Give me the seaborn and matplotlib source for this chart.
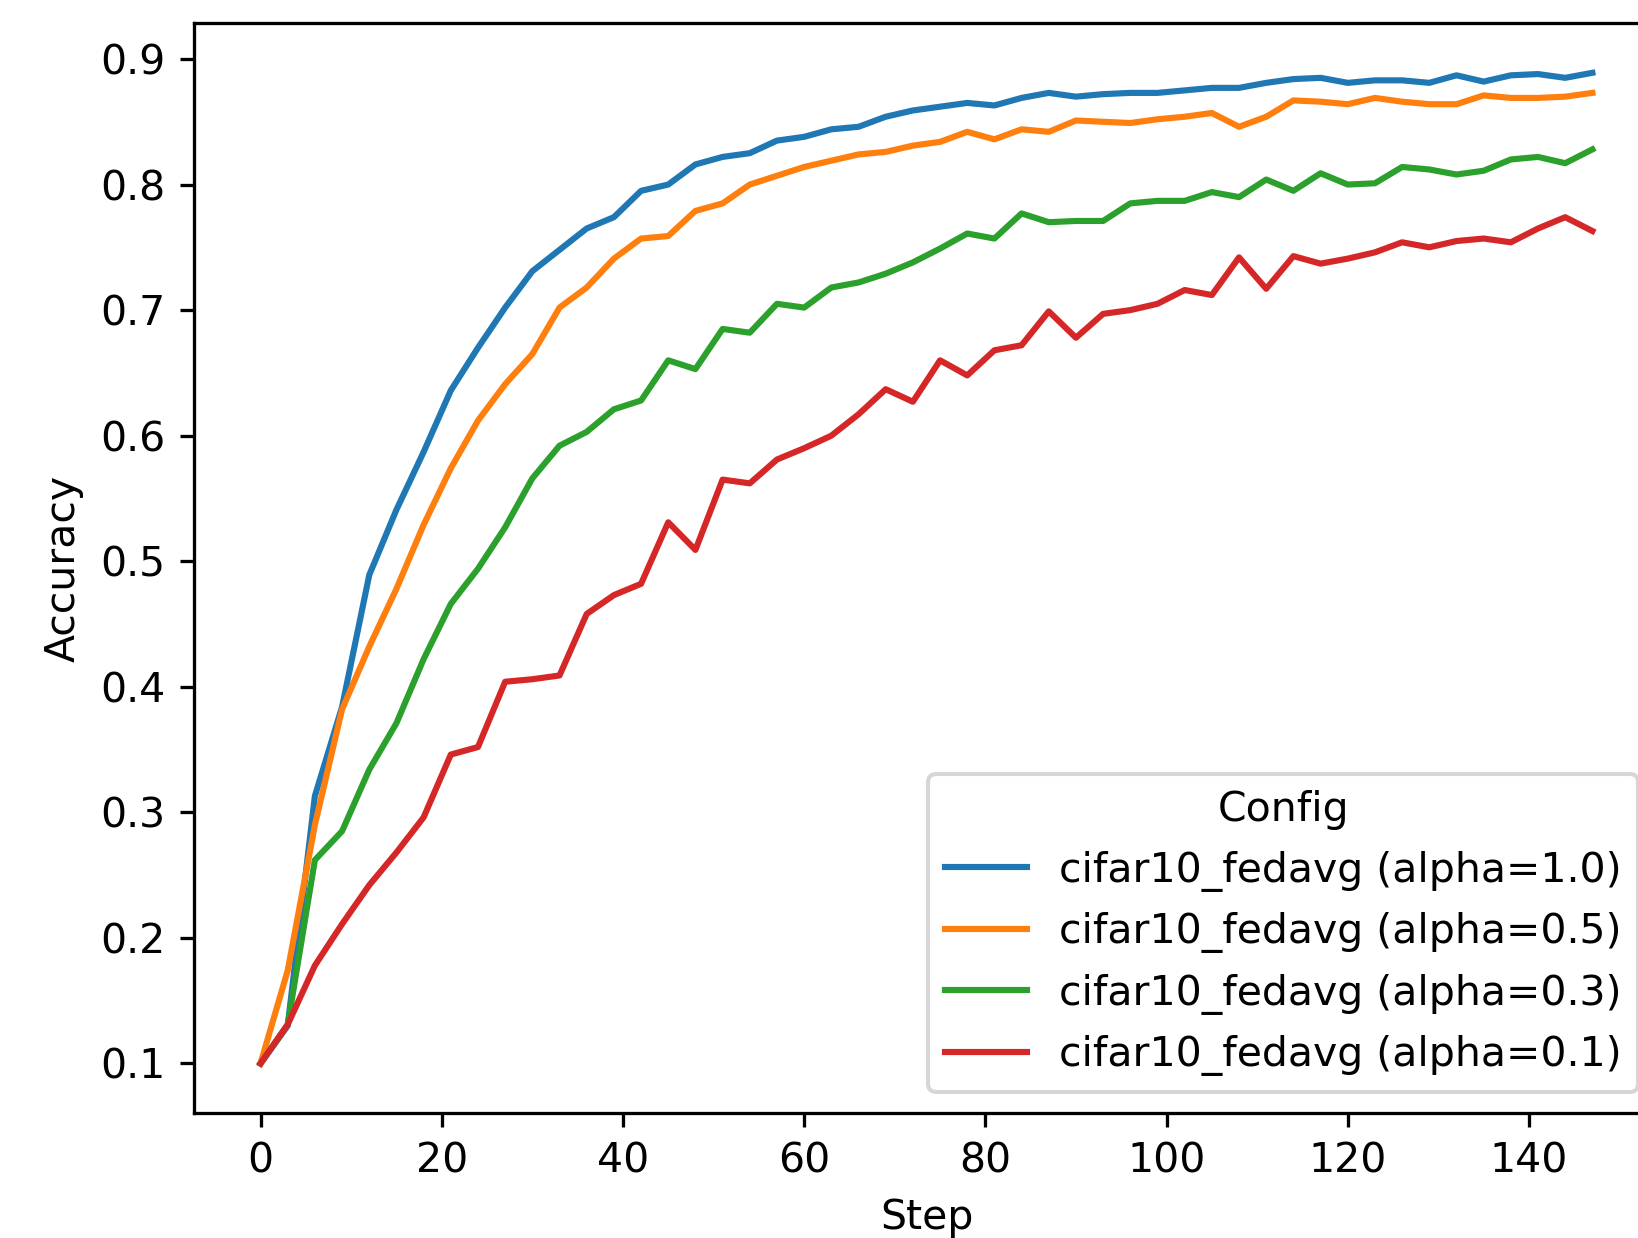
import numpy as np
import pandas as pd
import matplotlib
matplotlib.use("Agg")
import matplotlib.pyplot as plt
import seaborn as sns

steps = list(range(0, 150, 3))

acc_alpha_1_0 = [0.100, 0.130, 0.313, 0.384, 0.489, 0.541, 0.587, 0.636, 0.670, 0.702,
                 0.731, 0.748, 0.765, 0.774, 0.795, 0.800, 0.816, 0.822, 0.825, 0.835,
                 0.838, 0.844, 0.846, 0.854, 0.859, 0.862, 0.865, 0.863, 0.869, 0.873,
                 0.870, 0.872, 0.873, 0.873, 0.875, 0.877, 0.877, 0.881, 0.884, 0.885,
                 0.881, 0.883, 0.883, 0.881, 0.887, 0.882, 0.887, 0.888, 0.885, 0.889]
acc_alpha_0_5 = [0.100, 0.174, 0.290, 0.382, 0.432, 0.478, 0.529, 0.574, 0.612, 0.641,
                 0.665, 0.702, 0.718, 0.741, 0.757, 0.759, 0.779, 0.785, 0.800, 0.807,
                 0.814, 0.819, 0.824, 0.826, 0.831, 0.834, 0.842, 0.836, 0.844, 0.842,
                 0.851, 0.850, 0.849, 0.852, 0.854, 0.857, 0.846, 0.854, 0.867, 0.866,
                 0.864, 0.869, 0.866, 0.864, 0.864, 0.871, 0.869, 0.869, 0.870, 0.873]
acc_alpha_0_3 = [0.100, 0.131, 0.262, 0.285, 0.334, 0.371, 0.422, 0.466, 0.494, 0.527,
                 0.566, 0.592, 0.603, 0.621, 0.628, 0.660, 0.653, 0.685, 0.682, 0.705,
                 0.702, 0.718, 0.722, 0.729, 0.738, 0.749, 0.761, 0.757, 0.777, 0.770,
                 0.771, 0.771, 0.785, 0.787, 0.787, 0.794, 0.790, 0.804, 0.795, 0.809,
                 0.800, 0.801, 0.814, 0.812, 0.808, 0.811, 0.820, 0.822, 0.817, 0.828]
acc_alpha_0_1 = [0.100, 0.131, 0.178, 0.211, 0.242, 0.268, 0.296, 0.346, 0.352, 0.404,
                 0.406, 0.409, 0.458, 0.473, 0.482, 0.531, 0.509, 0.565, 0.562, 0.581,
                 0.590, 0.600, 0.617, 0.637, 0.627, 0.660, 0.648, 0.668, 0.672, 0.699,
                 0.678, 0.697, 0.700, 0.705, 0.716, 0.712, 0.742, 0.717, 0.743, 0.737,
                 0.741, 0.746, 0.754, 0.750, 0.755, 0.757, 0.754, 0.765, 0.774, 0.763]

configs = ["cifar10_fedavg (alpha=1.0)", "cifar10_fedavg (alpha=0.5)",
           "cifar10_fedavg (alpha=0.3)", "cifar10_fedavg (alpha=0.1)"]
series = [acc_alpha_1_0, acc_alpha_0_5, acc_alpha_0_3, acc_alpha_0_1]
colors = ["#1f77b4", "#ff7f0e", "#2ca02c", "#d62728"]

rows = []
for cfg, vals in zip(configs, series):
    for s, v in zip(steps, vals):
        rows.append({"Step": s, "Accuracy": v, "Config": cfg})
df = pd.DataFrame(rows)

DPI = 295
fig = plt.figure(figsize=(1638 / DPI, 1238 / DPI), dpi=DPI)
ax = fig.add_axes([0.1184, 0.1010, 0.8944, 0.8802])

sns.lineplot(data=df, x="Step", y="Accuracy", hue="Config", hue_order=configs,
             palette=colors, ax=ax, linewidth=1.5)

ax.set_xticks([0, 20, 40, 60, 80, 100, 120, 140])
ax.set_yticks([0.1, 0.2, 0.3, 0.4, 0.5, 0.6, 0.7, 0.8, 0.9])
leg = ax.legend(title="Config", loc="lower right")

fig.savefig("out.png", dpi=DPI)
